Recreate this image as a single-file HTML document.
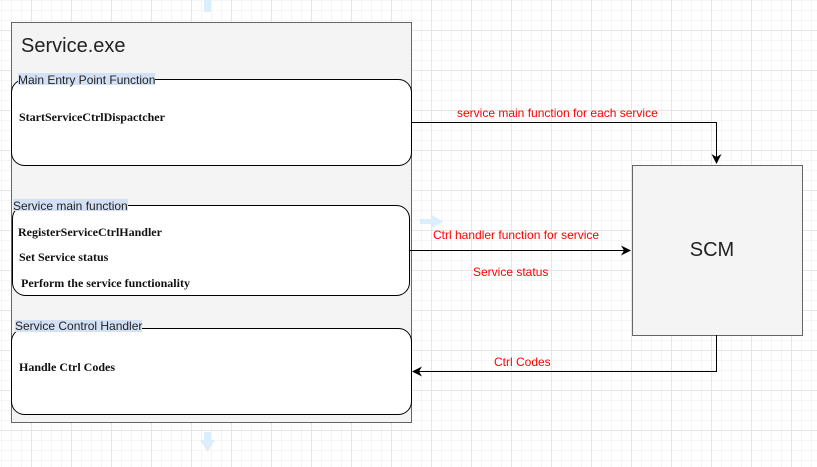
<!DOCTYPE html>
<html><head><meta charset="utf-8"><style>
body{margin:0;width:817px;height:467px;overflow:hidden;background:#fff;
background-image:linear-gradient(#e6e6e6 1px,transparent 1px),linear-gradient(90deg,#e6e6e6 1px,transparent 1px),linear-gradient(#f5f5f5 1px,transparent 1px),linear-gradient(90deg,#f5f5f5 1px,transparent 1px);
background-size:40px 40px,40px 40px,10px 10px,10px 10px;background-position:0 30px,31px 0,0 0,1px 0;font-family:"Liberation Sans",sans-serif}
</style></head><body>
<svg width="817" height="467" style="position:absolute;left:0;top:0" font-family="Liberation Sans, sans-serif">
<defs><marker id="a" markerWidth="10" markerHeight="10" refX="9" refY="5" orient="auto" markerUnits="userSpaceOnUse"><path d="M0,0 L10,5 L0,10 L3,5 Z" fill="#000"/></marker></defs>
<rect x="204" y="0" width="7" height="12" fill="#dbeefc"/>
<rect x="204" y="432" width="7" height="12" fill="#dbeefc"/><path d="M200,440 L215,440 L207.5,452 Z" fill="#dbeefc"/>
<rect x="11.5" y="22.5" width="400" height="400" fill="#f4f4f4" stroke="#666"/>
<text x="21" y="52" font-size="20" fill="#222">Service.exe</text>
<rect x="11.5" y="79.5" width="400" height="86" rx="13" fill="#fff" stroke="#000"/>
<rect x="12.5" y="205.5" width="397" height="90" rx="13" fill="#fff" stroke="#000"/>
<rect x="11.5" y="328.5" width="400" height="86" rx="13" fill="#fff" stroke="#000"/>
<rect x="18" y="73" width="137" height="12" fill="#d4e1f5"/>
<text x="18" y="84" font-size="12" fill="#222">Main Entry Point Function</text>
<rect x="13" y="199" width="115" height="12" fill="#d4e1f5"/>
<text x="13" y="210" font-size="12" fill="#222">Service main function</text>
<rect x="15" y="320" width="127" height="12" fill="#d4e1f5"/>
<text x="15" y="330" font-size="12" fill="#222">Service Control Handler</text>
<g font-family="Liberation Serif, serif" font-weight="bold" font-size="12" fill="#111">
<text x="19" y="121">StartServiceCtrlDispactcher</text>
<text x="18" y="236">RegisterServiceCtrlHandler</text>
<text x="19" y="261">Set Service status</text>
<text x="21" y="287">Perform the service functionality</text>
<text x="19" y="371">Handle Ctrl Codes</text>
</g>
<rect x="420" y="219" width="14" height="5" fill="#dbeefc"/><path d="M432,215 L443,221.5 L432,228 Z" fill="#dbeefc"/>
<rect x="632.5" y="165.5" width="170" height="170" fill="#f4f4f4" stroke="#666"/>
<text x="712" y="256" font-size="20" fill="#222" text-anchor="middle">SCM</text>
<path d="M411,122.5 H716.5 V163" fill="none" stroke="#000" marker-end="url(#a)"/>
<path d="M410,250.5 H630" fill="none" stroke="#000" marker-end="url(#a)"/>
<path d="M716.5,335 V371.5 H413" fill="none" stroke="#000" marker-end="url(#a)"/>
<g fill="#f00" font-size="12">
<text x="457" y="117">service main function for each service</text>
<text x="433" y="239">Ctrl handler function for service</text>
<text x="473" y="276">Service status</text>
<text x="494" y="366">Ctrl Codes</text>
</g>
</svg>
</body></html>
